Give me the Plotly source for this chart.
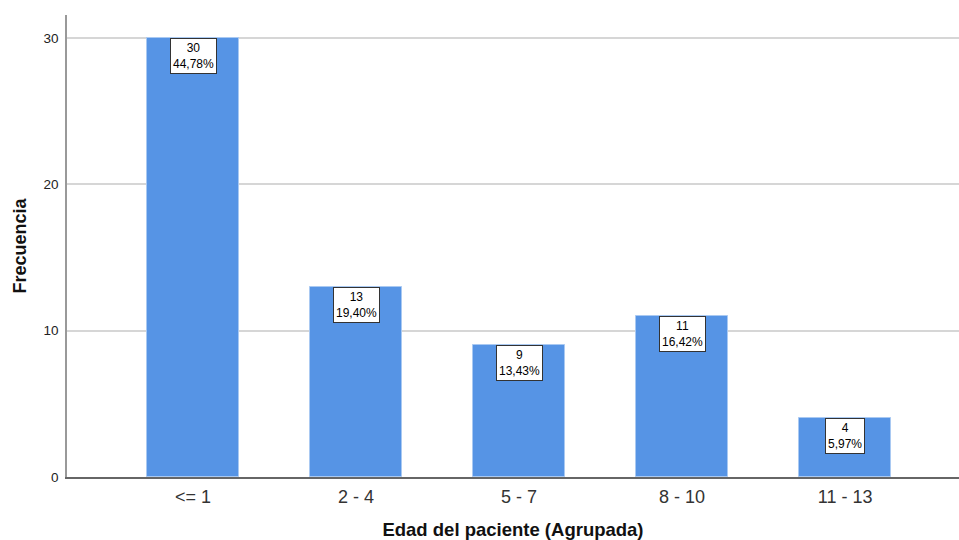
import plotly.graph_objects as go

# Frequency of patients by grouped age
categorias = ["<= 1", "2 - 4", "5 - 7", "8 - 10", "11 - 13"]
frecuencias = [30, 13, 9, 11, 4]
porcentajes = ["44,78%", "19,40%", "13,43%", "16,42%", "5,97%"]

posiciones = list(range(len(categorias)))
FONT = "Liberation Sans, Arial, sans-serif"

fig = go.Figure()
fig.add_trace(go.Bar(
    x=posiciones,
    y=frecuencias,
    width=0.56,
    marker=dict(color="#5694E5", line=dict(color="#A9C9F2", width=1)),
    hoverinfo="skip",
))

# Value boxes hanging from the top of each bar
for xp, f, p in zip(posiciones, frecuencias, porcentajes):
    fig.add_annotation(
        x=xp, y=f, xref="x", yref="y",
        text=f"{f}<br>{p}",
        showarrow=False,
        yanchor="top", xanchor="center",
        font=dict(family=FONT, size=12, color="#000000"),
        bgcolor="#FFFFFF",
        bordercolor="#333333",
        borderwidth=1,
        borderpad=2,
    )

fig.update_layout(
    width=959, height=540,
    margin=dict(l=67, r=0, t=15, b=63),
    paper_bgcolor="#FFFFFF",
    plot_bgcolor="#FFFFFF",
    showlegend=False,
    bargap=0,
    font=dict(family=FONT, color="#222222"),
)

fig.update_xaxes(
    range=[-0.773, 4.699],
    tickmode="array",
    tickvals=posiciones,
    ticktext=categorias,
    tickfont=dict(family=FONT, size=18, color="#333333"),
    ticklabelstandoff=3,
    showgrid=False,
    zeroline=False,
    showline=True,
    linecolor="#666666",
    linewidth=1.5,
    ticks="",
    title=dict(text="<b>Edad del paciente (Agrupada)</b>",
               font=dict(family=FONT, size=18.5, color="#111111"),
               standoff=21),
)

fig.update_yaxes(
    range=[0, 31.57],
    tickmode="array",
    tickvals=[0, 10, 20, 30],
    tickfont=dict(family=FONT, size=13.5, color="#222222"),
    ticklabelstandoff=4,
    showgrid=True,
    gridcolor="#D6D6D6",
    gridwidth=1.5,
    zeroline=False,
    showline=True,
    linecolor="#999999",
    linewidth=1.5,
    ticks="",
    title=dict(text="<b>Frecuencia</b>",
               font=dict(family=FONT, size=18, color="#111111"),
               standoff=12),
)

fig.write_html("out.html")
